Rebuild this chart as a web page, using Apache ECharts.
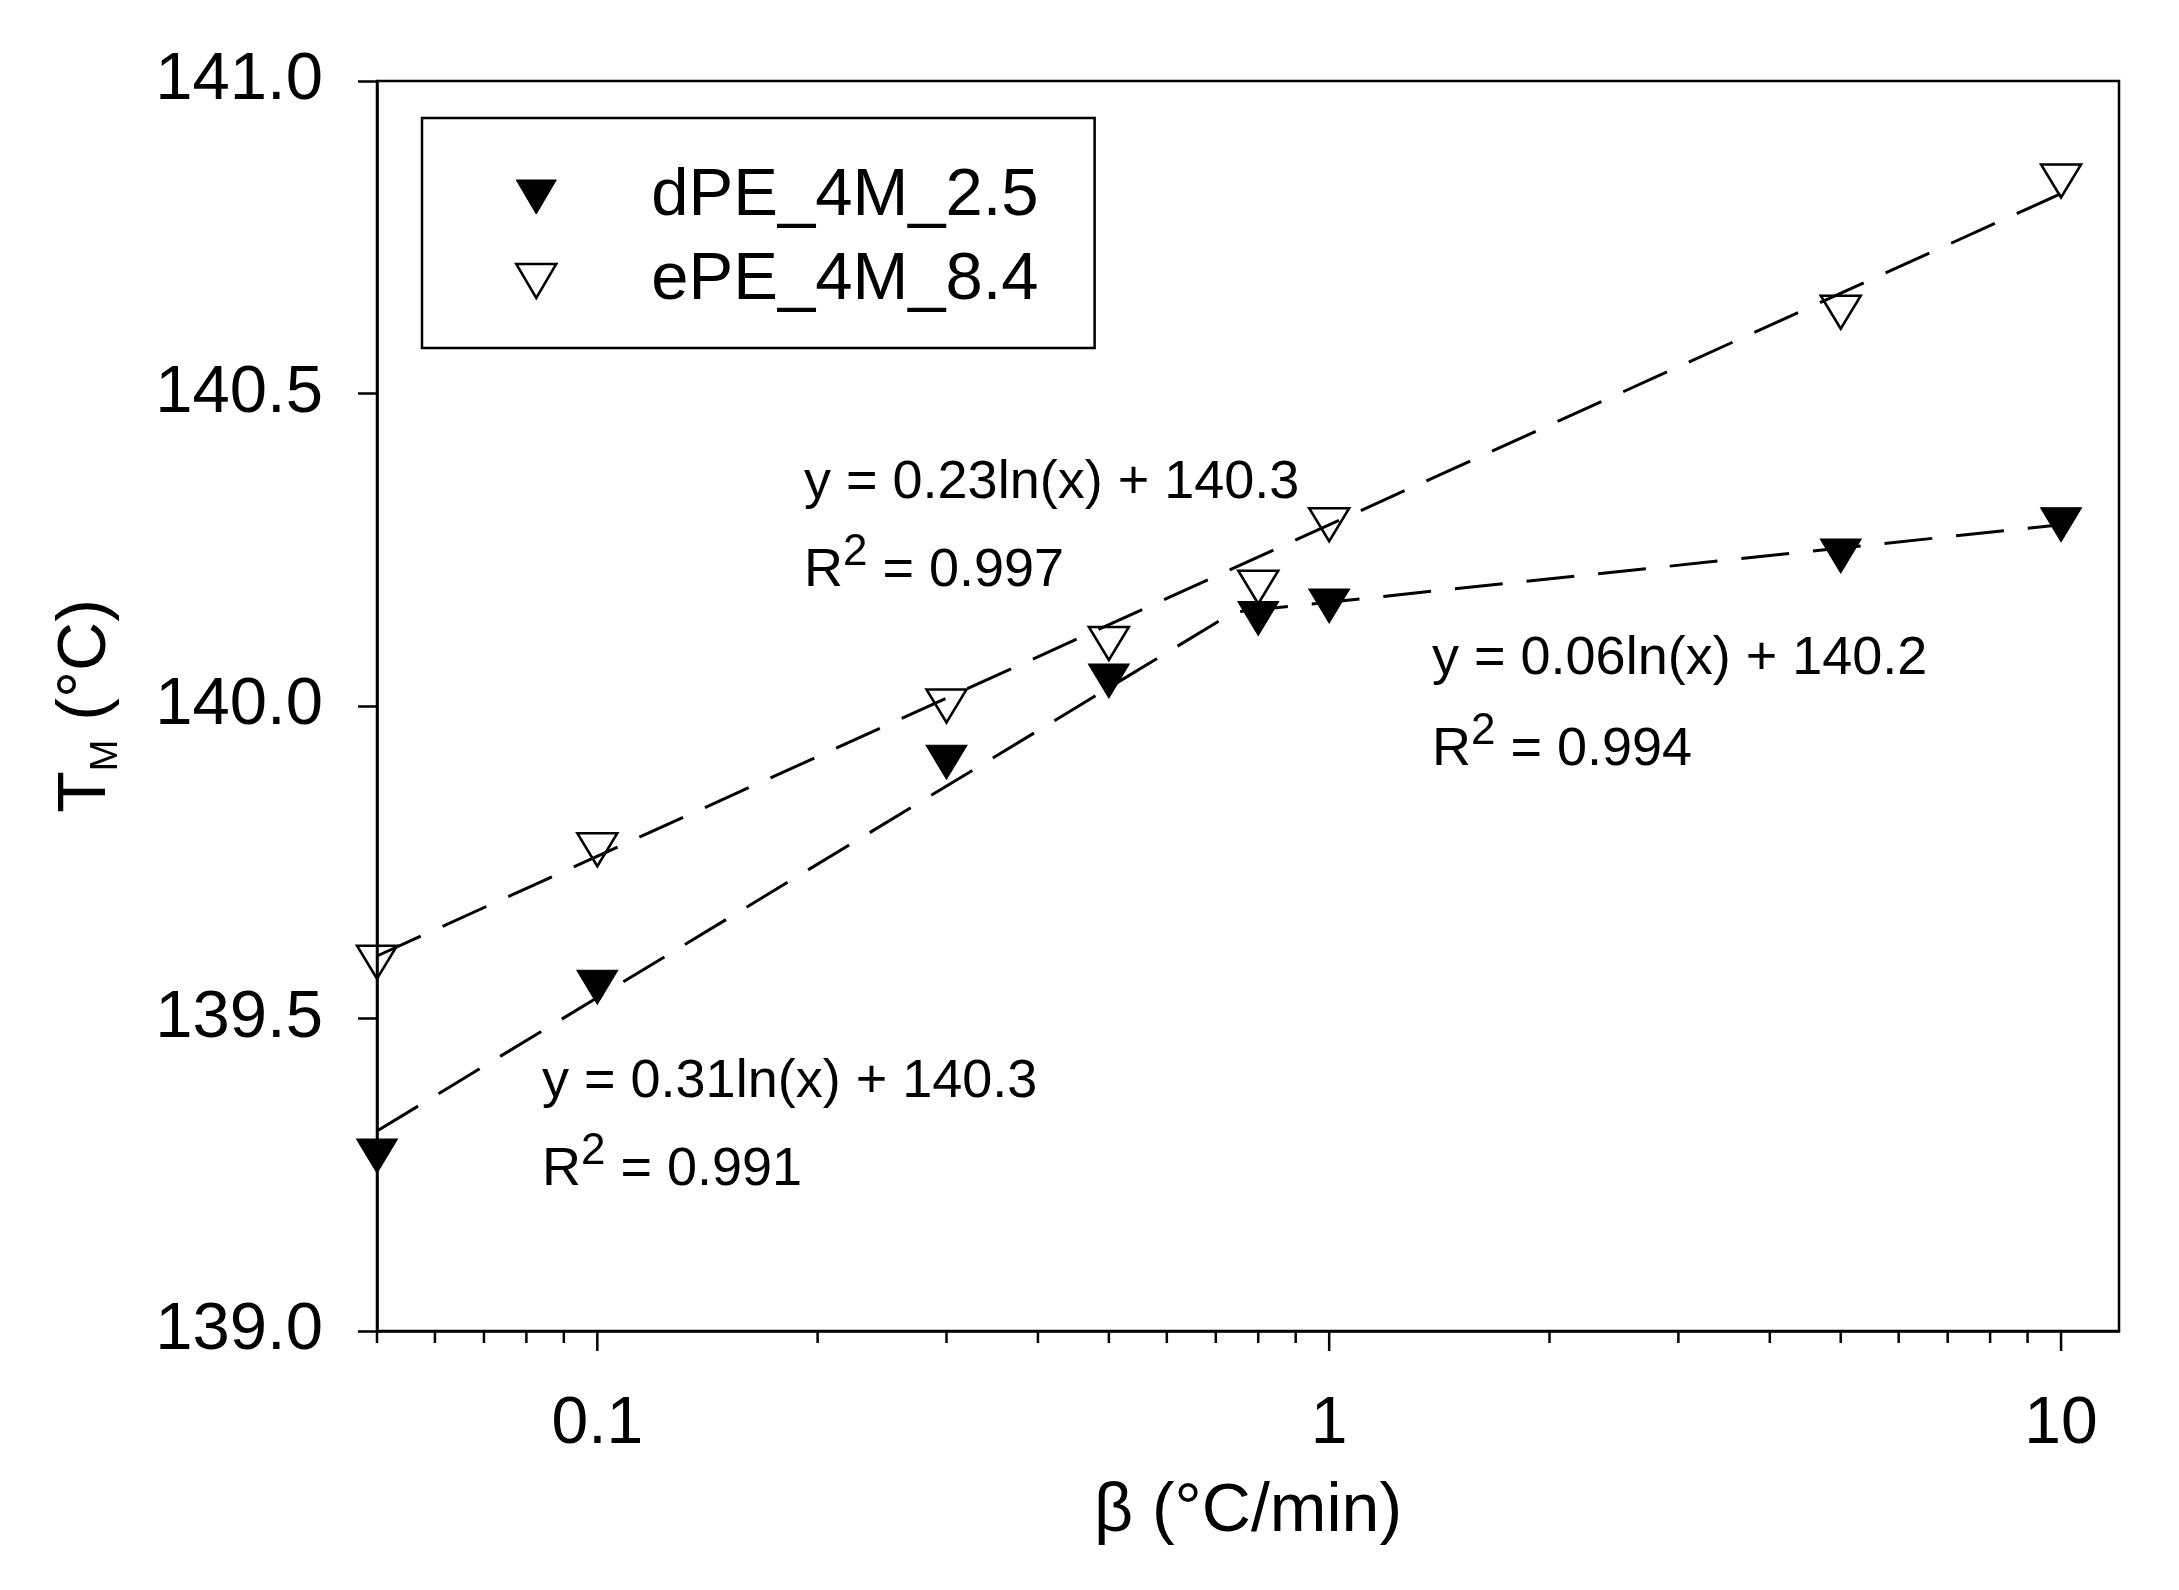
<!DOCTYPE html>
<html>
<head>
<meta charset="utf-8">
<script src="https://cdn.jsdelivr.net/npm/echarts@6/dist/echarts.min.js"></script>
<style>
  html, body { margin: 0; padding: 0; background: #fff; }
  #chart { width: 2179px; height: 1590px; }
</style>
</head>
<body>
<div id="chart"></div>
<script>
// heating rate (°C/min) and melting temperature (°C)
const beta = [0.05, 0.1, 0.3, 0.5, 0.8, 1, 5, 10]
const dPE = [139.28, 139.55, 139.91, 140.04, 140.14, 140.16, 140.24, 140.29]
const ePE = [139.59, 139.77, 140.00, 140.10, 140.19, 140.29, 140.63, 140.84]

// dashed fit lines, end points
const ePEFitBeta = [0.05, 10]
const ePEFitT = [139.60, 140.82]
const dPEFitBeta = [0.05, 0.74, 10]
const dPEFitT = [139.32, 140.15, 140.29]

const seriesNames = ['dPE_4M_2.5', 'ePE_4M_8.4']
const fitTexts = ['y = 0.23ln(x) + 140.3', 'y = 0.06ln(x) + 140.2', 'y = 0.31ln(x) + 140.3']
const r2Texts = ['0.997', '0.994', '0.991']

const xMajorTicks = [0.1, 1, 10]
const xMinorTicks = [0.05, 0.06, 0.07, 0.08, 0.09, 0.2, 0.3, 0.4, 0.5, 0.6, 0.7, 0.8, 0.9, 2, 3, 4, 5, 6, 7, 8, 9]

const FONT = "'Liberation Sans', Arial, sans-serif"
const Y_MIN = 139.0
const Y_MAX = 141.0
// downward triangle for the legend
const DOWN_TRI = 'path://M0,0L40,0L20,34Z'

const chart = echarts.init(document.getElementById('chart'))

const zip = (xs, ys) => xs.map((x, i) => [x, ys[i]])

// annotation placement (px): left, middle of line 1, middle of line 2
const annoPos = [[804, 486, 571], [1432, 662, 750], [542, 1085, 1170]]
const annoGraphics = []
fitTexts.forEach((t, i) => {
  const p = annoPos[i]
  annoGraphics.push({
    type: 'text', left: p[0], top: p[1] - 30, silent: true,
    style: { text: t, font: '54px ' + FONT, fill: '#000' }
  })
  annoGraphics.push({
    type: 'text', left: p[0], top: p[2] - 40, silent: true,
    style: {
      text: '{a|R}{sup|2}{a| = ' + r2Texts[i] + '}',
      fill: '#000',
      rich: {
        a: { fontSize: 54, fontFamily: FONT, lineHeight: 80, fill: '#000' },
        sup: { fontSize: 44, fontFamily: FONT, lineHeight: 10, verticalAlign: 'top', fill: '#000' }
      }
    }
  })
})

const option = {
  backgroundColor: '#fff',
  animation: false,
  grid: {
    left: 377,
    right: 60,
    top: 81,
    bottom: 259,
    show: true,
    borderColor: '#000',
    borderWidth: 2.5,
    containLabel: false
  },
  legend: {
    data: [
      { name: seriesNames[0], icon: DOWN_TRI },
      { name: seriesNames[1], icon: DOWN_TRI }
    ],
    orient: 'vertical',
    left: 422,
    top: 118,
    padding: [44, 56, 32, 93],
    itemWidth: 40,
    itemHeight: 34,
    itemGap: 14,
    borderColor: '#000',
    borderWidth: 2.5,
    selectedMode: false,
    itemStyle: { borderWidth: 'inherit' },
    textStyle: { fontSize: 67, fontFamily: FONT, color: '#000', lineHeight: 70, padding: [0, 0, 0, 90] }
  },
  xAxis: {
    type: 'log',
    logBase: 10,
    min: 0.05,
    max: 12,
    name: 'β (°C/min)',
    nameLocation: 'middle',
    nameGap: 147,
    nameTextStyle: { fontSize: 68, fontFamily: FONT, color: '#000' },
    axisLine: { show: true, onZero: false, lineStyle: { color: '#000', width: 2.5 } },
    axisTick: { show: false },
    splitLine: { show: false },
    axisLabel: {
      margin: 61,
      fontSize: 66,
      fontFamily: FONT,
      color: '#000',
      formatter: function (v) {
        const l = Math.log10(v)
        return Math.abs(l - Math.round(l)) < 1e-6 ? String(+v.toPrecision(6)) : ''
      }
    }
  },
  yAxis: {
    type: 'value',
    min: Y_MIN,
    max: Y_MAX,
    interval: 0.5,
    name: '{t|T}{sub|M}{t| (°C)}',
    nameLocation: 'middle',
    nameGap: 251,
    nameTextStyle: {
      color: '#000',
      rich: {
        t: { fontSize: 68, fontFamily: FONT, lineHeight: 80, color: '#000' },
        sub: { fontSize: 38, fontFamily: FONT, lineHeight: 8, verticalAlign: 'bottom', color: '#000' }
      }
    },
    axisLine: { show: true, lineStyle: { color: '#000', width: 2.5 } },
    axisTick: { show: true, inside: false, length: 19, lineStyle: { color: '#000', width: 2.5 } },
    splitLine: { show: false },
    axisLabel: {
      margin: 54,
      fontSize: 67,
      fontFamily: FONT,
      color: '#000',
      formatter: v => v.toFixed(1)
    }
  },
  graphic: annoGraphics,
  series: [
    {
      name: 'dPE fit',
      type: 'line',
      data: zip(dPEFitBeta, dPEFitT),
      symbol: 'none',
      silent: true,
      z: 2,
      lineStyle: { color: '#000', width: 3, type: [48, 24] }
    },
    {
      name: 'ePE fit',
      type: 'line',
      data: zip(ePEFitBeta, ePEFitT),
      symbol: 'none',
      silent: true,
      z: 2,
      lineStyle: { color: '#000', width: 3, type: [48, 24] }
    },
    {
      name: seriesNames[0],
      type: 'scatter',
      data: zip(beta, dPE),
      symbol: 'triangle',
      symbolRotate: 180,
      symbolSize: [41, 34],
      z: 5,
      itemStyle: { color: '#000', borderColor: '#000', borderWidth: 1, opacity: 1 }
    },
    {
      name: seriesNames[1],
      type: 'scatter',
      data: zip(beta, ePE),
      symbol: 'triangle',
      symbolRotate: 180,
      symbolSize: [40, 33],
      z: 5,
      itemStyle: { color: 'rgba(0,0,0,0)', borderColor: '#000', borderWidth: 2.5, opacity: 1 }
    },
    {
      name: 'x ticks',
      type: 'custom',
      silent: true,
      clip: false,
      z: 6,
      data: xMajorTicks.map(v => [v, Y_MIN, 1]).concat(xMinorTicks.map(v => [v, Y_MIN, 0])),
      encode: { x: 0, y: 1 },
      renderItem: function (params, api) {
        const p = api.coord([api.value(0), api.value(1)])
        const len = api.value(2) ? 20 : 12
        return {
          type: 'line',
          shape: { x1: p[0], y1: p[1], x2: p[0], y2: p[1] + len },
          style: { stroke: '#000', lineWidth: 2.5 }
        }
      }
    }
  ]
}

chart.setOption(option)
</script>
</body>
</html>
